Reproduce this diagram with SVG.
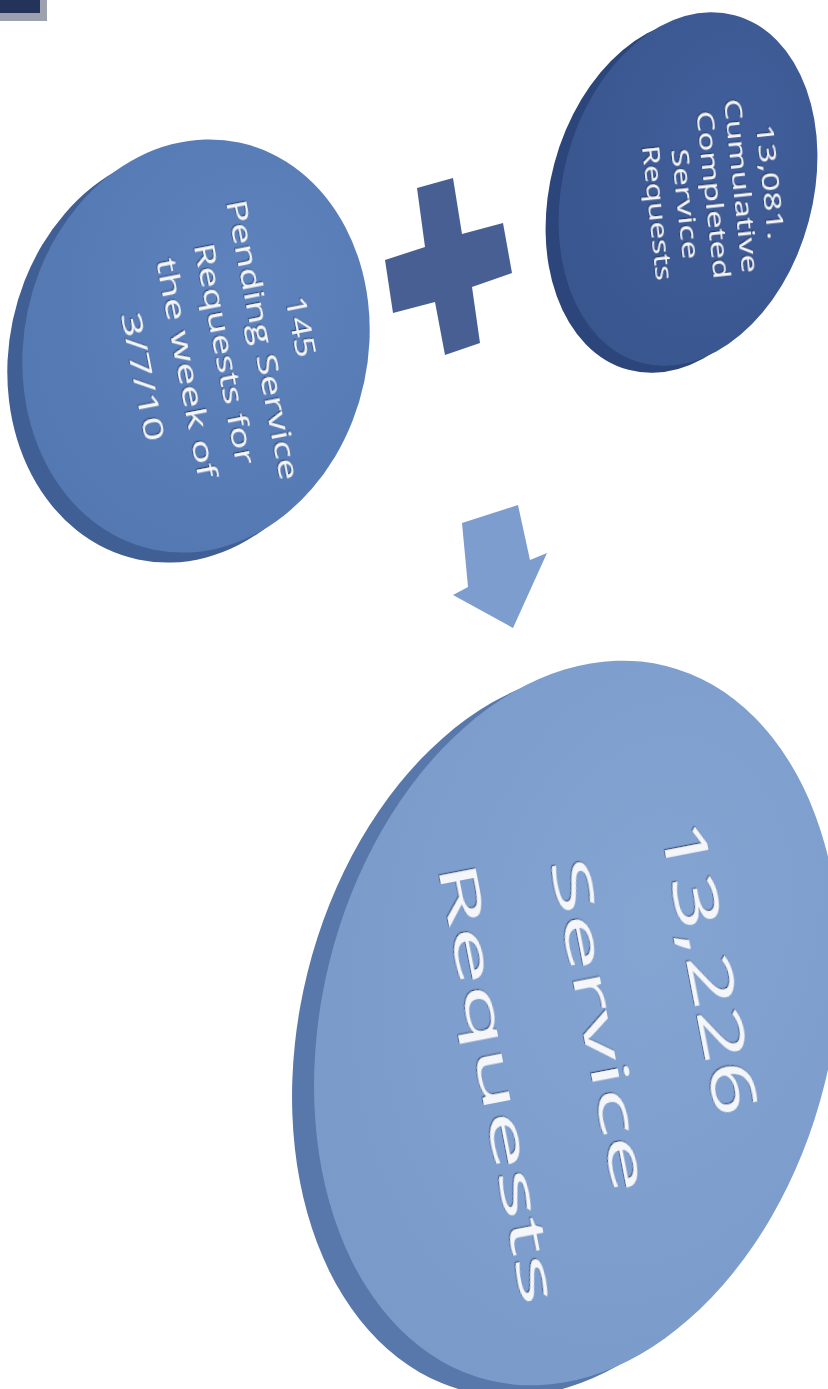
<svg xmlns="http://www.w3.org/2000/svg" width="828" height="1389" viewBox="0 0 828 1389">
<defs>
<style>
.t{font-family:"Open Sans","Noto Sans","DejaVu Sans",sans-serif;fill:#f4f6fa;text-anchor:middle;filter:url(#emb)}
</style>
<filter id="emb" x="-10%" y="-30%" width="120%" height="160%">
<feDropShadow dx="-1.2" dy="0.6" stdDeviation="0.6" flood-color="#1b2a48" flood-opacity="0.75"/>
</filter>
<radialGradient id="gL" cx="0.6" cy="0.35" r="0.75">
<stop offset="0" stop-color="#5e83bd"/><stop offset="1" stop-color="#5377b0"/>
</radialGradient>
<radialGradient id="gR" cx="0.6" cy="0.35" r="0.75">
<stop offset="0" stop-color="#415f9b"/><stop offset="1" stop-color="#39558e"/>
</radialGradient>
<radialGradient id="gB" cx="0.6" cy="0.35" r="0.75">
<stop offset="0" stop-color="#84a4d2"/><stop offset="1" stop-color="#7999c9"/>
</radialGradient>
</defs>
<rect width="828" height="1389" fill="#ffffff"/>
<g id="corner">
<rect x="0" y="0" width="47" height="21" fill="#9da1ad"/>
<rect x="0" y="0" width="40" height="13" fill="#24335a"/>
</g>
<g id="node-pending">
<ellipse cx="181" cy="356" rx="172" ry="208" transform="rotate(12 181 356)" fill="#3f5f95"/>
<ellipse cx="196" cy="346" rx="172" ry="208" transform="rotate(12 196 346)" fill="url(#gL)"/>
<text class="t" font-size="27" textLength="62" lengthAdjust="spacingAndGlyphs" dy="0.35em" transform="translate(300,327) rotate(79)">145</text>
<text class="t" font-size="27" textLength="285" lengthAdjust="spacingAndGlyphs" dy="0.35em" transform="translate(262,340) rotate(79)">Pending Service</text>
<text class="t" font-size="27" textLength="225" lengthAdjust="spacingAndGlyphs" dy="0.35em" transform="translate(224,354) rotate(79)">Requests for</text>
<text class="t" font-size="27" textLength="223" lengthAdjust="spacingAndGlyphs" dy="0.35em" transform="translate(186,368) rotate(79)">the week of</text>
<text class="t" font-size="27" textLength="131" lengthAdjust="spacingAndGlyphs" dy="0.35em" transform="translate(142,377) rotate(79)">3/7/10</text>
</g>
<g id="node-plus">
<polygon points="417,188 453,178 462,234 503,223 512,273 472,287 480,343 445,355 435,302 393,313 385,260 425,247" fill="#475f92"/>
</g>
<g id="node-completed">
<ellipse cx="675" cy="196" rx="125" ry="180" transform="rotate(15 675 196)" fill="#2c467b"/>
<ellipse cx="688" cy="189" rx="125" ry="180" transform="rotate(15 688 189)" fill="url(#gR)"/>
<text class="t" font-size="24" textLength="116" lengthAdjust="spacingAndGlyphs" dy="0.35em" transform="translate(770,182) rotate(84)">13,081.</text>
<text class="t" font-size="24" textLength="175" lengthAdjust="spacingAndGlyphs" dy="0.35em" transform="translate(741,186) rotate(84)">Cumulative</text>
<text class="t" font-size="24" textLength="169" lengthAdjust="spacingAndGlyphs" dy="0.35em" transform="translate(713,195) rotate(84)">Completed</text>
<text class="t" font-size="24" textLength="111" lengthAdjust="spacingAndGlyphs" dy="0.35em" transform="translate(685,204) rotate(84)">Service</text>
<text class="t" font-size="24" textLength="136" lengthAdjust="spacingAndGlyphs" dy="0.35em" transform="translate(657,213) rotate(84)">Requests</text>
</g>
<g id="connectors">
<polygon points="462,523 518,505 530,560 547,553 513,628 453,595 468,587" fill="#7d9dcf"/>
</g>
<g id="node-total">
<ellipse cx="555" cy="1034" rx="255" ry="368" transform="rotate(14 555 1034)" fill="#5877aa"/>
<ellipse cx="577" cy="1023" rx="255" ry="368" transform="rotate(14 577 1023)" fill="url(#gB)"/>
<text class="t" font-size="60" textLength="300" lengthAdjust="spacingAndGlyphs" dy="0.35em" transform="translate(709,968) rotate(79)">13,226</text>
<text class="t" font-size="52" textLength="340" lengthAdjust="spacingAndGlyphs" dy="0.35em" transform="translate(600,1025) rotate(79)">Service</text>
<text class="t" font-size="52" textLength="450" lengthAdjust="spacingAndGlyphs" dy="0.35em" transform="translate(498,1083) rotate(79)">Requests</text>
</g>
</svg>
